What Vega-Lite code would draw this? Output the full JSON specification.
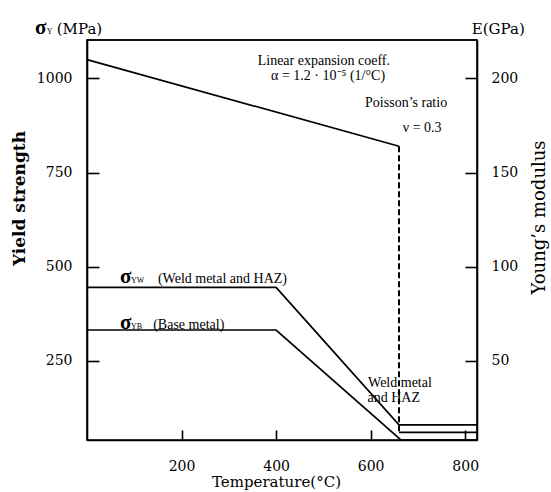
{
  "$schema": "https://vega.github.io/schema/vega-lite/v6.json",
  "width": 390,
  "height": 400,
  "autosize": {"type": "none"},
  "padding": {"left": 87, "top": 40, "right": 74, "bottom": 52},
  "background": "white",
  "config": {
    "view": {"stroke": "black", "strokeWidth": 1.6},
    "axis": {
      "grid": false,
      "domainColor": "black",
      "domainWidth": 1.6,
      "tickColor": "black",
      "tickWidth": 1.6,
      "labelColor": "black",
      "titleColor": "black",
      "labelFont": "DejaVu Serif",
      "titleFont": "DejaVu Serif",
      "labelFontSize": 14,
      "titleFontSize": 15,
      "titleFontWeight": "normal",
      "labelFlush": false
    }
  },
  "datasets": {
    "strength": [
      {"series": "weld", "i": 0, "T": 0, "v": 445},
      {"series": "weld", "i": 1, "T": 400, "v": 445},
      {"series": "weld", "i": 2, "T": 660, "v": 80},
      {"series": "weld", "i": 3, "T": 825, "v": 80},
      {"series": "base", "i": 0, "T": 0, "v": 332},
      {"series": "base", "i": 1, "T": 400, "v": 332},
      {"series": "base", "i": 2, "T": 664, "v": 40},
      {"series": "base", "i": 3, "T": 825, "v": 40}
    ],
    "modulus": [
      {"segment": "solid", "i": 0, "T": 0, "E": 210},
      {"segment": "solid", "i": 1, "T": 660, "E": 164},
      {"segment": "drop", "i": 0, "T": 660, "E": 164},
      {"segment": "drop", "i": 1, "T": 660, "E": 12},
      {"segment": "liquid", "i": 0, "T": 660, "E": 12},
      {"segment": "liquid", "i": 1, "T": 825, "E": 12}
    ],
    "notes": [
      {"kind": "center", "label": "Linear expansion coeff.", "T": 501, "v": 1046},
      {"kind": "center", "label": "α = 1.2 · 10⁻⁵ (1/°C)", "T": 510, "v": 1006},
      {"kind": "center", "label": "Poisson’s ratio", "T": 675, "v": 935},
      {"kind": "center", "label": "ν = 0.3", "T": 709, "v": 868},
      {"kind": "center", "label": "Weld metal", "T": 662, "v": 191},
      {"kind": "center", "label": "and HAZ", "T": 649, "v": 151},
      {"kind": "tail", "label": "(Weld metal and HAZ)", "T": 150, "v": 457},
      {"kind": "tail", "label": "(Base metal)", "T": 140, "v": 335},
      {"kind": "sigma", "label": "σ", "T": -110, "v": 1118},
      {"kind": "sigma", "label": "σ", "T": 70, "v": 457},
      {"kind": "sigma", "label": "σ", "T": 70, "v": 335},
      {"kind": "sub", "label": "Y", "T": -85, "v": 1118},
      {"kind": "sub", "label": "YW", "T": 93, "v": 457},
      {"kind": "sub", "label": "YB", "T": 93, "v": 335},
      {"kind": "unit", "label": "(MPa)", "T": -64, "v": 1118},
      {"kind": "unit", "label": "E(GPa)", "T": 814, "v": 1118}
    ]
  },
  "layer": [
    {
      "layer": [
        {
          "data": {"name": "strength"},
          "mark": {"type": "line", "color": "black", "strokeWidth": 1.7},
          "encoding": {
            "x": {
              "field": "T", "type": "quantitative",
              "scale": {"domain": [0, 825], "nice": false, "zero": false},
              "axis": {
                "title": "Temperature(°C)", "values": [200, 400, 600, 800],
                "tickSize": -10, "labelPadding": 29,
                "titleX": 189, "titleY": 41, "titleBaseline": "middle", "titleAlign": "center"
              }
            },
            "y": {
              "field": "v", "type": "quantitative",
              "scale": {"domain": [40, 1102], "nice": false, "zero": false},
              "axis": {
                "title": "Yield strength", "values": [250, 500, 750, 1000], "format": "d",
                "tickSize": -12, "labelPadding": 27,
                "titleFontSize": 17, "titleFontWeight": "bold", "titleAngle": 270,
                "titleX": -68, "titleY": 158, "titleBaseline": "middle", "titleAlign": "center"
              }
            },
            "detail": {"field": "series"},
            "order": {"field": "i"}
          }
        },
        {
          "data": {"values": [{}]},
          "mark": {"type": "rule", "color": "black", "strokeWidth": 1.6},
          "encoding": {
            "x": {"datum": 0, "type": "quantitative"},
            "x2": {"datum": 825},
            "y": {"datum": 1102, "type": "quantitative"}
          }
        },
        {
          "data": {"name": "notes"},
          "transform": [{"filter": "datum.kind === 'center'"}],
          "mark": {"type": "text", "font": "Liberation Serif", "fontSize": 14, "color": "black", "align": "center", "baseline": "middle"},
          "encoding": {
            "x": {"field": "T", "type": "quantitative"},
            "y": {"field": "v", "type": "quantitative"},
            "text": {"field": "label"}
          }
        },
        {
          "data": {"name": "notes"},
          "transform": [{"filter": "datum.kind === 'tail'"}],
          "mark": {"type": "text", "font": "Liberation Serif", "fontSize": 14, "color": "black", "align": "left", "baseline": "alphabetic"},
          "encoding": {
            "x": {"field": "T", "type": "quantitative"},
            "y": {"field": "v", "type": "quantitative"},
            "text": {"field": "label"}
          }
        },
        {
          "data": {"name": "notes"},
          "transform": [{"filter": "datum.kind === 'sigma'"}],
          "mark": {"type": "text", "font": "Liberation Serif", "fontSize": 21, "fontWeight": "bold", "color": "black", "align": "left", "baseline": "alphabetic"},
          "encoding": {
            "x": {"field": "T", "type": "quantitative"},
            "y": {"field": "v", "type": "quantitative"},
            "text": {"field": "label"}
          }
        },
        {
          "data": {"name": "notes"},
          "transform": [{"filter": "datum.kind === 'sub'"}],
          "mark": {"type": "text", "font": "Liberation Serif", "fontSize": 8, "color": "black", "align": "left", "baseline": "alphabetic"},
          "encoding": {
            "x": {"field": "T", "type": "quantitative"},
            "y": {"field": "v", "type": "quantitative"},
            "text": {"field": "label"}
          }
        },
        {
          "data": {"name": "notes"},
          "transform": [{"filter": "datum.kind === 'unit'"}],
          "mark": {"type": "text", "font": "DejaVu Serif", "fontSize": 15, "color": "black", "align": "left", "baseline": "alphabetic"},
          "encoding": {
            "x": {"field": "T", "type": "quantitative"},
            "y": {"field": "v", "type": "quantitative"},
            "text": {"field": "label"}
          }
        }
      ]
    },
    {
      "data": {"name": "modulus"},
      "layer": [
        {
          "transform": [{"filter": "datum.segment !== 'drop'"}],
          "mark": {"type": "line", "color": "black", "strokeWidth": 1.7},
          "encoding": {
            "x": {"field": "T", "type": "quantitative"},
            "y": {
              "field": "E", "type": "quantitative",
              "scale": {"domain": [8, 220.4], "nice": false, "zero": false},
              "axis": {
                "orient": "right",
                "title": "Young’s modulus", "values": [50, 100, 150, 200],
                "tickSize": -12, "labelPadding": 26,
                "titleFontSize": 18, "titleAngle": 270,
                "titleX": 62, "titleY": 177, "titleBaseline": "middle", "titleAlign": "center"
              }
            },
            "detail": {"field": "segment"},
            "order": {"field": "i"}
          }
        },
        {
          "transform": [{"filter": "datum.segment === 'drop'"}],
          "mark": {"type": "line", "color": "black", "strokeWidth": 2, "strokeDash": [6, 3]},
          "encoding": {
            "x": {"field": "T", "type": "quantitative"},
            "y": {"field": "E", "type": "quantitative"},
            "order": {"field": "i"}
          }
        }
      ]
    }
  ],
  "resolve": {"scale": {"y": "independent"}}
}
